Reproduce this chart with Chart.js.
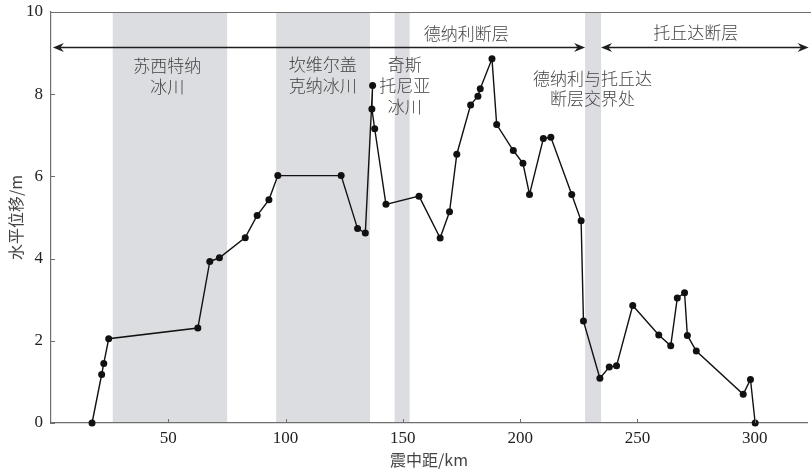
<!DOCTYPE html>
<html>
<head>
<meta charset="utf-8">
<script src="https://cdn.jsdelivr.net/npm/chart.js@4/dist/chart.umd.min.js"></script>
<style>
  html, body { margin: 0; padding: 0; background: #ffffff; }
  #wrap { width: 811px; height: 469px; }
</style>
</head>
<body>
<div id="wrap"><canvas id="c" width="811" height="469"></canvas></div>
<script>
// Epicentral distance (km) and horizontal slip (m) along the rupture
const distanceKm = [17.5, 21.6, 22.5, 24.6, 62.6, 67.7, 71.8, 82.8, 87.9, 92.9, 96.7,
  123.7, 130.7, 134.0, 137.1, 136.8, 138.0, 142.8, 156.9, 165.9, 169.9, 173.0,
  178.9, 182.0, 183.0, 188.0, 190.0, 197.1, 201.2, 204.0, 209.9, 213.1, 222.0,
  226.0, 227.0, 234.0, 238.0, 241.1, 248.0, 259.1, 264.2, 267.0, 270.1, 271.3,
  275.1, 295.1, 298.2, 300.2];
const slipM = [0, 1.18, 1.45, 2.05, 2.31, 3.93, 4.02, 4.51, 5.05, 5.43, 6.02,
  6.02, 4.73, 4.62, 8.21, 7.64, 7.16, 5.32, 5.52, 4.50, 5.14, 6.54,
  7.74, 7.95, 8.13, 8.86, 7.26, 6.63, 6.32, 5.56, 6.92, 6.95, 5.56,
  4.92, 2.48, 1.09, 1.36, 1.39, 2.86, 2.14, 1.88, 3.04, 3.17, 2.13,
  1.75, 0.70, 1.06, 0];

// Glacier / fault-junction zones (km)
const bandStartKm = [26.3, 96.0, 146.5, 227.7];
const bandEndKm   = [75.1, 136.0, 152.9, 234.5];

// Axis ticks
const xTickValues = [50, 100, 150, 200, 250, 300];
const yTickValues = [0, 2, 4, 6, 8, 10];

// Fault extents drawn as double-headed arrows (km)
const faultFromKm = [0.8, 234.5];
const faultToKm   = [227.7, 323.0];
const faultArrowLevel = 9.15;

// Text annotations: lines, anchor distance (km), first-line level (m)
const noteLines = [["苏西特纳", "冰川"], ["坎维尔盖", "克纳冰川"], ["奇斯", "托尼亚", "冰川"],
  ["德纳利断层"], ["德纳利与托丘达", "断层交界处"], ["托丘达断层"]];
const noteKm    = [49.6, 115.8, 150.8, 177.0, 230.9, 274.9];
const noteLevel = [8.69, 8.71, 8.71, 9.48, 8.39, 9.51];

const AXIS_COLOR = '#6e6e6e';
const TEXT_COLOR = '#444444';
const CJK_FONT = '"Noto Sans CJK SC", "Noto Sans", sans-serif';
const NUM_FONT = '"Times New Roman", "Liberation Serif", serif';

const decorPlugin = {
  id: 'decor',
  beforeDraw(chart) {
    const { ctx, chartArea: a, scales: { x } } = chart;
    ctx.save();
    ctx.fillStyle = '#ffffff';
    ctx.fillRect(0, 0, chart.width, chart.height);
    ctx.fillStyle = '#dcdde0';
    for (let i = 0; i < bandStartKm.length; i++) {
      const x0 = x.getPixelForValue(bandStartKm[i]);
      const x1 = x.getPixelForValue(bandEndKm[i]);
      ctx.fillRect(x0, a.top, x1 - x0, a.bottom - a.top);
    }
    ctx.restore();
  },
  afterDraw(chart) {
    const { ctx, chartArea: a, scales: { x, y } } = chart;
    ctx.save();
    // top frame line, running to the canvas edge
    ctx.strokeStyle = AXIS_COLOR;
    ctx.lineWidth = 1.2;
    ctx.beginPath();
    ctx.moveTo(a.left, a.top + 0.5);
    ctx.lineTo(chart.width, a.top + 0.5);
    ctx.stroke();
    // inward tick marks
    ctx.lineWidth = 1;
    ctx.beginPath();
    xTickValues.forEach(v => {
      const px = Math.round(x.getPixelForValue(v)) + 0.5;
      ctx.moveTo(px, a.bottom);
      ctx.lineTo(px, a.bottom - 4);
    });
    yTickValues.forEach(v => {
      const py = Math.round(y.getPixelForValue(v)) + 0.5;
      ctx.moveTo(a.left, py);
      ctx.lineTo(a.left + 4, py);
    });
    ctx.stroke();

    // fault arrows
    const ay = Math.round(y.getPixelForValue(faultArrowLevel)) + 0.5;
    ctx.strokeStyle = '#1e1e1e';
    ctx.fillStyle = '#1e1e1e';
    ctx.lineWidth = 1.5;
    const head = (tip, dir) => {
      ctx.beginPath();
      ctx.moveTo(tip, ay);
      ctx.lineTo(tip - dir * 11, ay - 4.5);
      ctx.lineTo(tip - dir * 7.5, ay);
      ctx.lineTo(tip - dir * 11, ay + 4.5);
      ctx.closePath();
      ctx.fill();
    };
    for (let i = 0; i < faultFromKm.length; i++) {
      const x0 = x.getPixelForValue(faultFromKm[i]);
      const x1 = x.getPixelForValue(faultToKm[i]);
      ctx.beginPath();
      ctx.moveTo(x0 + 6, ay);
      ctx.lineTo(x1 - 6, ay);
      ctx.stroke();
      head(x0, -1);
      head(x1, 1);
    }

    // annotations
    ctx.fillStyle = TEXT_COLOR;
    ctx.font = '300 17px ' + CJK_FONT;
    ctx.textAlign = 'center';
    ctx.textBaseline = 'middle';
    for (let i = 0; i < noteLines.length; i++) {
      const cx = x.getPixelForValue(noteKm[i]);
      const cy = y.getPixelForValue(noteLevel[i]);
      noteLines[i].forEach((t, k) => ctx.fillText(t, cx, cy + k * 20.8));
    }
    ctx.restore();
  }
};

new Chart(document.getElementById('c'), {
  type: 'line',
  data: {
    datasets: [{
      data: distanceKm.map((d, i) => ({ x: d, y: slipM[i] })),
      borderColor: '#111111',
      borderWidth: 1.4,
      backgroundColor: '#111111',
      pointBackgroundColor: '#111111',
      pointBorderWidth: 0,
      pointRadius: 3.5,
      tension: 0,
      fill: false,
      clip: false
    }]
  },
  options: {
    responsive: false,
    devicePixelRatio: 1,
    animation: false,
    events: [],
    layout: { padding: { top: 12, right: 0, left: 0, bottom: 0 } },
    plugins: { legend: { display: false }, tooltip: { enabled: false } },
    scales: {
      x: {
        type: 'linear',
        min: 0,
        max: 322.3,
        afterBuildTicks: s => { s.ticks = xTickValues.map(v => ({ value: v })); },
        afterFit: s => { s.height = 46; s.paddingLeft = 0; s.paddingRight = 0; },
        grid: { display: false, drawTicks: false },
        border: { display: true, color: AXIS_COLOR, width: 1.2 },
        ticks: { color: '#222222', padding: 5, font: { family: NUM_FONT, size: 17 }, maxRotation: 0, autoSkip: false },
        title: { display: true, text: '震中距/km', color: TEXT_COLOR,
                 font: { family: CJK_FONT, size: 16, lineHeight: 1 }, padding: { top: 0, bottom: 1 } }
      },
      y: {
        type: 'linear',
        min: 0,
        max: 10,
        afterBuildTicks: s => { s.ticks = yTickValues.map(v => ({ value: v })); },
        afterFit: s => { s.width = 51; s.paddingTop = 0; s.paddingBottom = 0; },
        grid: { display: false, drawTicks: false },
        border: { display: true, color: AXIS_COLOR, width: 1.2 },
        ticks: { color: '#222222', padding: 8, font: { family: NUM_FONT, size: 17 } },
        title: { display: true, text: '水平位移/m', color: TEXT_COLOR,
                 font: { family: CJK_FONT, size: 16, lineHeight: 1 }, padding: { top: 8, bottom: 0 } }
      }
    }
  },
  plugins: [decorPlugin]
});
</script>
</body>
</html>
